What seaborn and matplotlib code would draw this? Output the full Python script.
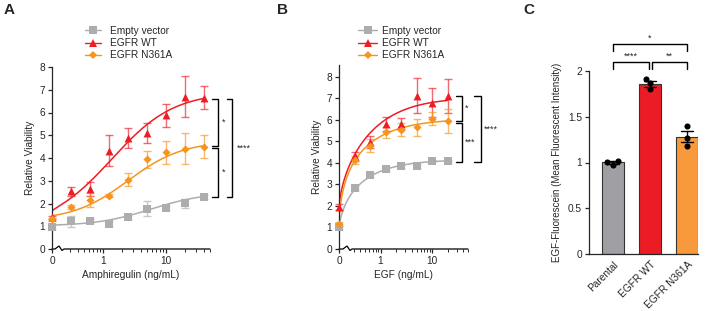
import numpy as np
import pandas as pd
import matplotlib
matplotlib.use("Agg")
import matplotlib.pyplot as plt
import matplotlib.transforms as mtransforms
from matplotlib.lines import Line2D
from matplotlib.ticker import FixedLocator, NullFormatter
import seaborn as sns

# ===== data =====
amph_conc = [0, 0.3125, 0.625, 1.25, 2.5, 5, 10, 20, 40]
ev_a = [0.98, 1.21, 1.24, 1.11, 1.40, 1.78, 1.80, 2.01, 2.29]
ev_a_err = [0.08, 0.25, 0.08, 0.10, 0.06, 0.33, 0.08, 0.20, 0.08]
wt_a = [1.39, 2.53, 2.64, 4.32, 4.88, 5.10, 5.87, 6.70, 6.65]
wt_a_err = [0.08, 0.19, 0.30, 0.67, 0.45, 0.45, 0.50, 0.90, 0.50]
n361_a = [1.30, 1.84, 2.16, 2.34, 3.05, 3.94, 4.25, 4.40, 4.50]
n361_a_err = [0.05, 0.08, 0.30, 0.06, 0.27, 0.36, 0.50, 0.68, 0.50]

egf_conc = [0, 0.3125, 0.625, 1.25, 2.5, 5, 10, 20]
ev_b = [1.00, 2.82, 3.43, 3.73, 3.85, 3.85, 4.08, 4.09]
ev_b_err = [0.05, 0.10, 0.08, 0.10, 0.07, 0.07, 0.06, 0.05]
wt_b = [1.94, 4.31, 4.97, 5.82, 5.82, 7.12, 6.80, 7.10]
wt_b_err = [0.15, 0.22, 0.30, 0.33, 0.25, 0.82, 0.68, 0.78]
n361_b = [1.17, 4.15, 4.80, 5.42, 5.54, 5.65, 6.05, 5.95]
n361_b_err = [0.10, 0.18, 0.30, 0.25, 0.30, 0.38, 0.30, 0.57]

# fitted curve parameters (bottom, top, EC50, hill)
fit_a = {"ev": (1.05, 2.5, 6.0, 1.0), "wt": (1.68, 6.9, 1.64, 0.9), "n361": (1.46, 4.75, 2.66, 1.0)}
fit_b = {"ev": (1.0, 4.15, 0.118, 0.8), "wt": (1.95, 7.05, 0.178, 0.75), "n361": (1.2, 6.05, 0.092, 0.72)}

groups_c = ["Parental", "EGFR WT", "EGFR N361A"]
mfi_parental = [0.978, 1.018, 1.007]
mfi_wt = [1.917, 1.800, 1.867]
mfi_n361 = [1.400, 1.265, 1.184]

labels = ["Empty vector", "EGFR WT", "EGFR N361A"]
colors = {"ev": "#ADADAD", "wt": "#EE1C25", "n361": "#F7941E"}
markers = {"ev": "s", "wt": "^", "n361": "D"}
msizes = {"ev": 28, "wt": 32, "n361": 17}
bar_colors = ["#A09FA4", "#EC1C24", "#F89A3C"]

ZERO_POS = 0.15625  # where "0" sits on the log axis

# ===== style =====
sns.set_style("ticks")
plt.rcParams["font.family"] = ["Liberation Sans", "DejaVu Sans"]
plt.rcParams["axes.linewidth"] = 0.9
plt.rcParams["xtick.major.width"] = 0.9
plt.rcParams["ytick.major.width"] = 0.9
plt.rcParams["xtick.minor.width"] = 0.7

fig = plt.figure(figsize=(7.14, 3.11), dpi=100)
W, H = 714, 311


def px_axes(l, r, t, b):
    return fig.add_axes([l / W, 1 - b / H, (r - l) / W, (b - t) / H])


def hill(p, bottom, top, ec50, h):
    u = np.clip(p - ZERO_POS, 0, None)
    return bottom + (top - bottom) * u ** h / (ec50 ** h + u ** h)


def dose_panel(ax, conc, series, fits, xlabel, ymax, brk):
    xpos = np.array([ZERO_POS if c == 0 else c for c in conc])
    grid = np.logspace(np.log10(ZERO_POS), np.log10(max(conc)), 300)
    for key, (vals, errs) in series.items():
        c = colors[key]
        curve = pd.DataFrame({"x": grid, "y": hill(grid, *fits[key])})
        sns.lineplot(data=curve, x="x", y="y", color=c, lw=1.1, ax=ax, zorder=2)
        ax.errorbar(xpos, vals, yerr=errs, fmt="none", ecolor=c, alpha=0.65,
                    elinewidth=1.0, capsize=3, capthick=1.0, clip_on=False, zorder=3)
        pts = pd.DataFrame({"x": xpos, "y": vals})
        sns.scatterplot(data=pts, x="x", y="y", color=c, marker=markers[key],
                        s=msizes[key], linewidth=0, ax=ax, clip_on=False, zorder=4)
    ax.set_xscale("log")
    ax.set_xlim(ZERO_POS, 50)
    ax.set_ylim(0, ymax)
    ax.set_yticks(range(0, 9))
    ax.xaxis.set_major_locator(FixedLocator([ZERO_POS, 1, 10]))
    ax.set_xticklabels(["0", "1", "10"])
    minors = [0.3, 0.4, 0.5, 0.6, 0.7, 0.8, 0.9] + list(range(2, 10)) + [20, 30, 40, 50]
    ax.xaxis.set_minor_locator(FixedLocator(minors))
    ax.xaxis.set_minor_formatter(NullFormatter())
    ax.tick_params(axis="both", labelsize=7.3, length=3, pad=2)
    ax.tick_params(axis="x", which="minor", length=2)
    ax.set_xlabel(xlabel, fontsize=7.3, labelpad=3)
    ax.set_ylabel("Relative Viability", fontsize=7.3, labelpad=3)
    sns.despine(ax=ax)
    # bottom axis with a break mark
    ax.spines["bottom"].set_visible(False)
    bb = ax.get_position()
    w, h = bb.width * W, bb.height * H
    a = brk
    path = [(0, 0), (a, 0), (a + 4, 3), (a + 7, -1.5), (a + 9, 0), (w, 0)]
    ax.plot([p[0] / w for p in path], [p[1] / h for p in path], transform=ax.transAxes,
            color="black", lw=0.9, clip_on=False, solid_joinstyle="miter")


def bracket(ax, x0, x1, ytop, ybot, text, xt):
    tr = mtransforms.blended_transform_factory(ax.transAxes, ax.transData)
    ax.plot([x0, x1, x1, x0], [ytop, ytop, ybot, ybot], transform=tr,
            color="black", lw=1.0, clip_on=False)
    ax.text(xt, (ytop + ybot) / 2, text, transform=tr, ha="center", va="center", fontsize=6.5)


def legend(x, y, hl, tp):
    handles = []
    for key in ["ev", "wt", "n361"]:
        handles.append(Line2D([0], [0], color=colors[key], lw=1.0, marker=markers[key],
                              markersize=np.sqrt(msizes[key]), markeredgewidth=0))
    fig.legend(handles, labels, loc="upper left", bbox_to_anchor=(x / W, 1 - y / H),
               frameon=False, fontsize=7.3, handlelength=hl, handletextpad=tp,
               labelspacing=0.22, borderpad=0, borderaxespad=0)


# ===== panel A =====
ax_a = px_axes(52, 210, 67, 249)
dose_panel(ax_a, amph_conc,
           {"ev": (ev_a, ev_a_err), "wt": (wt_a, wt_a_err), "n361": (n361_a, n361_a_err)},
           fit_a, "Amphiregulin (ng/mL)", 8, 3)
bracket(ax_a, 1.013, 1.051, wt_a[-1] - 0.05, n361_a[-1] + 0.04, "*", 1.085)
bracket(ax_a, 1.013, 1.051, n361_a[-1] - 0.05, ev_a[-1], "*", 1.085)
bracket(ax_a, 1.108, 1.139, wt_a[-1] - 0.05, ev_a[-1], "****", 1.215)
legend(85, 26, 1.55, 0.9)

# ===== panel B =====
ax_b = px_axes(339, 468, 65, 249)
dose_panel(ax_b, egf_conc,
           {"ev": (ev_b, ev_b_err), "wt": (wt_b, wt_b_err), "n361": (n361_b, n361_b_err)},
           fit_b, "EGF (ng/mL)", 8.55, 4)
bracket(ax_b, 0.907, 0.953, wt_b[-1] + 0.03, n361_b[-1] - 0.02, "*", 0.99)
bracket(ax_b, 0.907, 0.953, n361_b[-1] - 0.1, ev_b[-1] - 0.05, "***", 1.016)
bracket(ax_b, 1.047, 1.100, wt_b[-1] + 0.03, ev_b[-1] - 0.05, "****", 1.18)
legend(358, 26, 1.9, 0.45)

# ===== panel C =====
ax_c = px_axes(589, 698, 71, 254)
df_c = pd.DataFrame({
    "group": np.repeat(groups_c, 3),
    "mfi": mfi_parental + mfi_wt + mfi_n361,
})
sns.barplot(data=df_c, x="group", y="mfi", hue="group", order=groups_c, hue_order=groups_c,
            palette=bar_colors, saturation=1, errorbar="se", capsize=0.32, width=0.6,
            err_kws={"color": "black", "linewidth": 1.0}, edgecolor="#333333",
            linewidth=0.8, legend=False, ax=ax_c)
sns.swarmplot(data=df_c, x="group", y="mfi", order=groups_c, color="black", size=4.4, ax=ax_c, zorder=5)
ax_c.set_xlim(-0.65, 2.3)
ax_c.set_ylim(0, 2)
ax_c.set_yticks([0, 0.5, 1, 1.5, 2])
ax_c.set_yticklabels(["0", "0.5", "1", "1.5", "2"])
ax_c.set_xlabel("")
ax_c.set_ylabel("EGF-Fluorescein (Mean Fluorescent Intensity)", fontsize=7, labelpad=4)
ax_c.tick_params(axis="y", labelsize=7.3, length=3, pad=2)
ax_c.tick_params(axis="x", labelsize=7.3, length=0, pad=4)
plt.setp(ax_c.get_xticklabels(), rotation=45, ha="right", rotation_mode="anchor")
sns.despine(ax=ax_c)

base = max(mfi_parental + mfi_wt + mfi_n361) + 0.1
for x0, x1, txt in [(0, 0.98, "****"), (1.05, 2, "**")]:
    ax_c.plot([x0, x0, x1, x1], [base, base + 0.08, base + 0.08, base], color="black", lw=1.0, clip_on=False)
    ax_c.text((x0 + x1) / 2, base + 0.095, txt, ha="center", va="bottom", fontsize=6.5)
ax_c.plot([0, 0, 2, 2], [base + 0.2, base + 0.275, base + 0.275, base + 0.2], color="black", lw=1.0, clip_on=False)
ax_c.text(1, base + 0.29, "*", ha="center", va="bottom", fontsize=6.5)

# ===== panel labels =====
for txt, x, y in [("A", 4, 3), ("B", 277, 3), ("C", 523, 3)]:
    fig.text(x / W, 1 - y / H, txt, fontsize=11, fontweight="bold", ha="left", va="top")

fig.savefig("out.png", dpi=100)
